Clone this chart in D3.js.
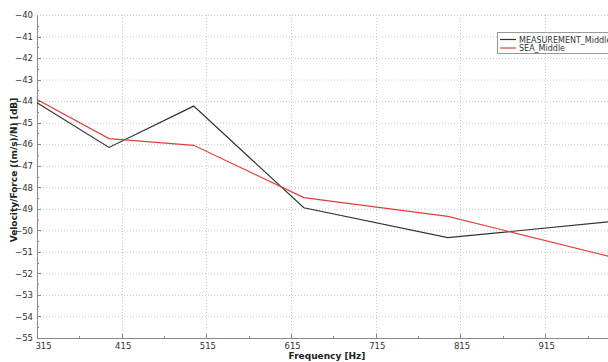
<!DOCTYPE html>
<html>
<head>
<meta charset="utf-8">
<script src="https://cdn.jsdelivr.net/npm/d3@7"></script>
<style>
  body { margin: 0; background: #fff; }
  svg { display: block; font-family: "DejaVu Sans", Verdana, sans-serif; }
</style>
</head>
<body>
<div id="chart"></div>
<script>
/* data */
const freqs = [315, 400, 500, 630, 800, 1000];
const measurement = [-44.08, -46.15, -44.23, -48.95, -50.34, -49.57];
const sea = [-43.92, -45.74, -46.05, -48.48, -49.35, -51.3];
const xTicks = [315, 415, 515, 615, 715, 815, 915];
const yTicks = d3.range(-55, -39, 1);
const seriesNames = ["MEASUREMENT_Middle", "SEA_Middle"];
const seriesColors = ["#333333", "#e0403a"];

/* layout */
const width = 608;
const height = 362;
const margin = { top: 15, bottom: 24, left: 37 };

const svg = d3.select("#chart")
  .append("svg")
  .attr("width", width)
  .attr("height", height);

const xScale = d3.scaleLinear()
  .domain([315, 1000])
  .range([margin.left, margin.left + 685 * 0.847]);

const yScale = d3.scaleLinear()
  .domain([-55, -40])
  .range([height - margin.bottom, margin.top]);

/* grid */
svg.append("g")
  .selectAll("line")
  .data(yTicks)
  .join("line")
  .attr("x1", margin.left)
  .attr("x2", width)
  .attr("y1", d => yScale(d) + 0.5)
  .attr("y2", d => yScale(d) + 0.5)
  .attr("stroke", "#c8c8c8")
  .attr("stroke-dasharray", "1,2");

svg.append("g")
  .selectAll("line")
  .data(xTicks.slice(1))
  .join("line")
  .attr("x1", d => Math.round(xScale(d)) + 0.5)
  .attr("x2", d => Math.round(xScale(d)) + 0.5)
  .attr("y1", margin.top)
  .attr("y2", yScale(-55))
  .attr("stroke", "#c8c8c8")
  .attr("stroke-dasharray", "1,2");

/* axes */
const xAxis = d3.axisBottom(xScale)
  .tickValues(xTicks)
  .tickSize(0)
  .tickPadding(5);

const gx = svg.append("g")
  .attr("transform", `translate(0, ${yScale(-55)})`)
  .call(xAxis);
gx.select(".domain").attr("stroke", "#888").attr("d", `M${margin.left},0.5H${width}`);
gx.selectAll("text")
  .attr("font-size", 8.5)
  .attr("fill", "#333")
  .attr("font-family", "DejaVu Sans")
  .attr("dx", (d, i) => i === 0 ? 6 : 1);

// minor ticks on x axis
svg.append("g")
  .selectAll("line")
  .data(d3.range(315, 1000, 50))
  .join("line")
  .attr("x1", d => Math.round(xScale(d)) + 0.5)
  .attr("x2", d => Math.round(xScale(d)) + 0.5)
  .attr("y1", yScale(-55))
  .attr("y2", d => yScale(-55) - ((d - 315) % 100 === 0 ? 4 : 2))
  .attr("stroke", "#888");

const yAxis = d3.axisLeft(yScale)
  .tickValues(yTicks)
  .tickSize(0)
  .tickPadding(4)
  .tickFormat(d3.format("d"));

const gy = svg.append("g")
  .attr("transform", `translate(${margin.left}, 0)`)
  .call(yAxis);
gy.select(".domain").attr("stroke", "#888").attr("d", `M0.5,${margin.top}V${yScale(-55)}`);
gy.selectAll("text")
  .attr("font-size", 8.5)
  .attr("fill", "#333")
  .attr("font-family", "DejaVu Sans");

// minor ticks on y axis
svg.append("g")
  .selectAll("line")
  .data(d3.range(-55, -40, 0.5))
  .join("line")
  .attr("x1", margin.left)
  .attr("x2", d => margin.left + (d % 1 === 0 ? 4 : 2))
  .attr("y1", d => Math.round(yScale(d)) + 0.5)
  .attr("y2", d => Math.round(yScale(d)) + 0.5)
  .attr("stroke", "#888");

/* axis titles */
svg.append("text")
  .attr("x", 327)
  .attr("y", 359)
  .attr("text-anchor", "middle")
  .attr("font-size", 9)
  .attr("font-weight", "bold")
  .attr("fill", "#222")
  .text("Frequency [Hz]");

svg.append("text")
  .attr("transform", `translate(17, 170) rotate(-90)`)
  .attr("text-anchor", "middle")
  .attr("font-size", 9)
  .attr("font-weight", "bold")
  .attr("fill", "#222")
  .text("Velocity/Force ((m/s)/N) [dB]");

/* lines */
const lineGen = d3.line()
  .x(d => xScale(d[0]))
  .y(d => yScale(d[1]));

[measurement, sea].forEach((values, i) => {
  svg.append("path")
    .datum(d3.zip(freqs, values))
    .attr("d", lineGen)
    .attr("fill", "none")
    .attr("stroke", seriesColors[i])
    .attr("stroke-width", 1.2);
});

/* legend */
const legend = svg.append("g")
  .attr("transform", "translate(497, 32)");

legend.append("rect")
  .attr("x", 0.5)
  .attr("y", 0.5)
  .attr("width", 130)
  .attr("height", 21)
  .attr("fill", "#fff")
  .attr("stroke", "#999");

seriesNames.forEach((name, i) => {
  legend.append("line")
    .attr("x1", 3)
    .attr("x2", 19)
    .attr("y1", 7.5 + i * 8.5)
    .attr("y2", 7.5 + i * 8.5)
    .attr("stroke", seriesColors[i])
    .attr("stroke-width", 1.2);
  legend.append("text")
    .attr("x", 22)
    .attr("y", 10.5 + i * 8.5)
    .attr("font-size", 8)
    .attr("fill", "#333")
    .text(name);
});
</script>
</body>
</html>
